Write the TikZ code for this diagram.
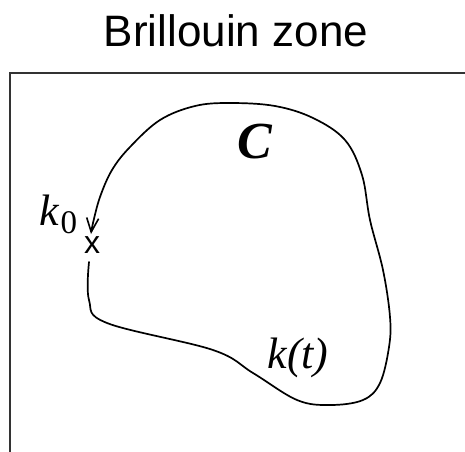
\documentclass[tikz,border=0pt]{standalone}
\usepackage{fontspec}
\setmainfont{Liberation Serif}
\setsansfont{Liberation Sans}
\usetikzlibrary{arrows.meta}
\begin{document}
\begin{tikzpicture}[x=1pt,y=-1pt,
  lbl/.style={inner sep=0pt,anchor=center},
  zone/.style={draw=black!80,line width=1.8pt},
  path/.style={line width=1.7pt,line cap=round}]
\useasboundingbox (0,0) rectangle (465,451);
\clip (0,0) rectangle (465,451);
\node[lbl,font=\sffamily\fontsize{44}{48}\selectfont] (title) at (236,31) {Brillouin zone};
\draw[zone] (10,73) rectangle (480,470);
\node[lbl,font=\sffamily\fontsize{32}{34}\selectfont] (x0) at (92,245) {x};
\draw[path,-{Straight Barb[length=14pt,width=12pt,line width=1.6pt]}]
  plot[smooth,tension=0.6] coordinates {(89,262) (89,300) (107,323) (213,350) (253,373) (297,400) (330,405) (363,400) (380,383) (389,347) (390,317) (383,270) (370,220) (362,175) (345,140) (313,118) (275,106) (230,103) (195,106) (160,120) (130,147) (112,170) (100,197) (93,223) (91,234)};
\node[lbl,font=\bfseries\itshape\fontsize{52}{56}\selectfont] (C) at (255,142) {C};
\node[lbl,font=\itshape\fontsize{44}{48}\selectfont] (kt) at (298,358) {k(t)};
\node[lbl,anchor=base west] (k0) at (39,225) {\fontsize{44}{46}\selectfont\itshape k\hspace{2pt}\raisebox{-8pt}{\upshape\fontsize{33}{35}\selectfont 0}};
\end{tikzpicture}
\end{document}
